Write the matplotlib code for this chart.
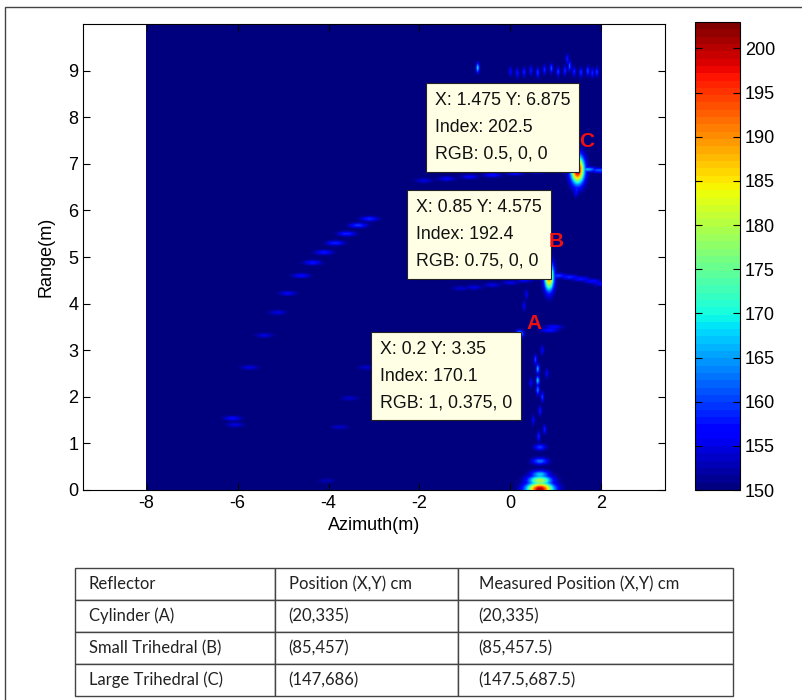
import numpy as np
import matplotlib.pyplot as plt
from matplotlib.patches import Rectangle

plt.rcParams['font.family'] = ['Liberation Sans', 'DejaVu Sans']
plt.rcParams['axes.unicode_minus'] = False

# strong reflectors picked with data tips
target_names = ['A', 'B', 'C']
target_x = [0.2, 0.85, 1.475]
target_y = [3.35, 4.575, 6.875]
target_val = [170.1, 192.4, 202.5]
target_rgb = ['1, 0.375, 0', '0.75, 0, 0', '0.5, 0, 0']
target_sx = [0.06, 0.07, 0.1]
target_sy = [0.05, 0.2, 0.2]

# near-field return and its range sidelobes
near_x = [0.65, 0.65, 0.65, 0.65, 0.65]
near_y = [0.02, 0.2, 0.33, 0.62, 0.92]
near_val = [201.0, 180.0, 168.0, 163.0, 160.0]
near_sx = [0.2, 0.18, 0.14, 0.12, 0.09]
near_sy = [0.1, 0.08, 0.06, 0.05, 0.045]

# weak range arcs (streaks)
arc_x = [-3.10, -3.35, -3.6, -3.85, -4.1, -4.35, -4.6, -4.9, -5.12, -5.41, -5.74, -6.11, -6.05,
         -3.16, -3.54, -3.76, -4.04,
         -1.9, -1.4, -0.9, -0.4, 0.1, 0.6, 1.1, 1.7, 1.95,
         1.05, 1.3, 1.55, 1.8, 1.98, 0.6, 0.3, 0.0, -0.4, -0.8, -1.1,
         0.86, 0.95]
arc_y = [5.82, 5.68, 5.5, 5.3, 5.1, 4.88, 4.6, 4.22, 3.81, 3.32, 2.63, 1.54, 1.4,
         2.63, 1.97, 1.35, 0.2,
         6.64, 6.68, 6.72, 6.76, 6.8, 6.84, 6.87, 6.88, 6.86,
         4.6, 4.57, 4.53, 4.48, 4.43, 4.55, 4.5, 4.45, 4.4, 4.35, 4.33,
         3.43, 3.5]
arc_val = [159, 160, 159, 159, 158, 158, 157, 156, 155, 155, 155, 157, 155,
           154, 154, 154, 153,
           155, 156, 156, 157, 157, 158, 159, 166, 162,
           160, 159, 158, 157, 156, 156, 156, 155, 155, 155, 154,
           158, 157]

# short vertical speckles
speck_x = [1.44, 1.48, 1.46, 0.3, 0.35,
           0.6, 0.6, 0.6, 0.55, 0.7, 0.65, 0.5, 0.75, 0.62, 0.45, 0.8, 0.7,
           -0.72, 0.0, 0.15, 0.3, 0.45, 0.6, 0.75, 0.9, 1.05, 1.2, 1.3, 1.4, 1.55, 1.7, 1.8, 1.9, 1.25]
speck_y = [6.39, 7.35, 6.45, 3.95, 4.2,
           2.6, 2.35, 2.15, 2.8, 2.0, 1.7, 1.5, 1.3, 1.15, 2.3, 2.5, 3.0,
           9.06, 8.98, 8.95, 8.97, 9.0, 8.96, 9.02, 9.05, 8.98, 9.0, 9.1, 8.98, 8.96, 8.99, 8.95, 8.97, 9.25]
speck_val = [158, 160, 159, 157, 156,
             166, 168, 164, 160, 160, 158, 157, 158, 159, 157, 157, 157,
             168, 157, 158, 159, 158, 160, 159, 161, 160, 159, 162, 159, 160, 161, 159, 160, 158]

# comparison table
table_cols = ['Reflector', 'Position (X,Y) cm', 'Measured Position (X,Y) cm']
reflectors = ['Cylinder (A)', 'Small Trihedral (B)', 'Large Trihedral (C)']
true_pos = ['(20,335)', '(85,457)', '(147,686)']
measured_pos = ['(20,335)', '(85,457.5)', '(147.5,687.5)']

# image grid (0.025 m cells)
step = 0.025
gx = np.arange(-8, 2 + step / 2, step)
gy = np.arange(0, 10 + step / 2, step)
X, Y = np.meshgrid(gx, gy)
img = np.full(X.shape, 150.0)


def add_blob(x0, y0, v, sx, sy):
    global img
    blob = 150 + (v - 150) * np.exp(-0.5 * (((X - x0) / sx) ** 2 + ((Y - y0) / sy) ** 2))
    img = np.maximum(img, blob)


for x0, y0, v, sx, sy in zip(target_x, target_y, target_val, target_sx, target_sy):
    add_blob(x0, y0, v, sx, sy)
for x0, y0, v, sx, sy in zip(near_x, near_y, near_val, near_sx, near_sy):
    add_blob(x0, y0, v, sx, sy)
for x0, y0, v in zip(arc_x, arc_y, arc_val):
    add_blob(x0, y0, v, 0.13, 0.035)
for x0, y0, v in zip(speck_x, speck_y, speck_val):
    add_blob(x0, y0, v, 0.025, 0.07)

fig = plt.figure(figsize=(8.03, 7.0), dpi=100)
ax = fig.add_axes([83 / 803, 0.3, 582 / 803, 466 / 700])
cax = fig.add_axes([695 / 803, 0.3, 45 / 803, 468 / 700])

im = ax.imshow(img, origin='lower', aspect='auto', cmap=plt.get_cmap('jet', 64),
               vmin=150, vmax=203, interpolation='bilinear',
               extent=[-8 - step / 2, 2 + step / 2, -step / 2, 10 + step / 2])
ax.set_xlim(-9.4, 3.4)
ax.set_ylim(0, 10)
ax.set_xticks([-8, -6, -4, -2, 0, 2])
ax.set_yticks(range(0, 10))
ax.tick_params(direction='in', top=True, right=True, labelsize=13, length=5)
ax.set_xlabel('Azimuth(m)', fontsize=13)
ax.set_ylabel('Range(m)', fontsize=13, labelpad=10)

# data tips and reflector labels
label_dx = [0.33, 0.16, 0.2]
label_dy = [0.23, 0.75, 0.6]
for i in range(3):
    tip = 'X: %g Y: %g\nIndex: %g\nRGB: %s' % (target_x[i], target_y[i], target_val[i], target_rgb[i])
    va = 'top' if target_names[i] == 'A' else 'bottom'
    off = (-5, -5) if va == 'top' else (-5, 5)
    ax.annotate(tip, xy=(target_x[i], target_y[i]), xytext=off, textcoords='offset points',
                ha='right', va=va, multialignment='left', fontsize=12.8, linespacing=1.75,
                color='#111111',
                bbox=dict(boxstyle='square,pad=0.5', fc='#ffffe6', ec='#222222', lw=0.8))
    ax.text(target_x[i] + label_dx[i], target_y[i] + label_dy[i], target_names[i],
            color='#ee1111', fontsize=15, fontweight='bold', ha='center', va='center')

cb = fig.colorbar(im, cax=cax, ticks=range(150, 205, 5))
cb.ax.tick_params(direction='in', left=True, right=True, labelsize=13, length=5)
cb.outline.set_linewidth(0.8)

# table below the image
tax = fig.add_axes([75 / 803, 4 / 700, 658 / 803, 128 / 700])
tax.axis('off')
cells = [[r, p, m] for r, p, m in zip(reflectors, true_pos, measured_pos)]
tbl = tax.table(cellText=cells, colLabels=table_cols, cellLoc='left', colLoc='left',
                colWidths=[200 / 658, 183 / 658, 275 / 658], bbox=[0, 0, 1, 1])
tbl.auto_set_font_size(False)
for (r, c), cell in tbl.get_celld().items():
    cell.set_edgecolor('#444444')
    cell.set_linewidth(1.0)
    cell.PAD = 0.07 if c == 0 else 0.075
    cell.get_text().set_fontsize(12)
    cell.get_text().set_family('Lato')
    cell.get_text().set_color('#222222')

# outer frame of the figure
fig.add_artist(Rectangle((5 / 803, -0.1), 1.1, 0.1 + 693 / 700, transform=fig.transFigure,
                         fill=False, ec='#444444', lw=1.0))

fig.savefig('out.png', dpi=100)
